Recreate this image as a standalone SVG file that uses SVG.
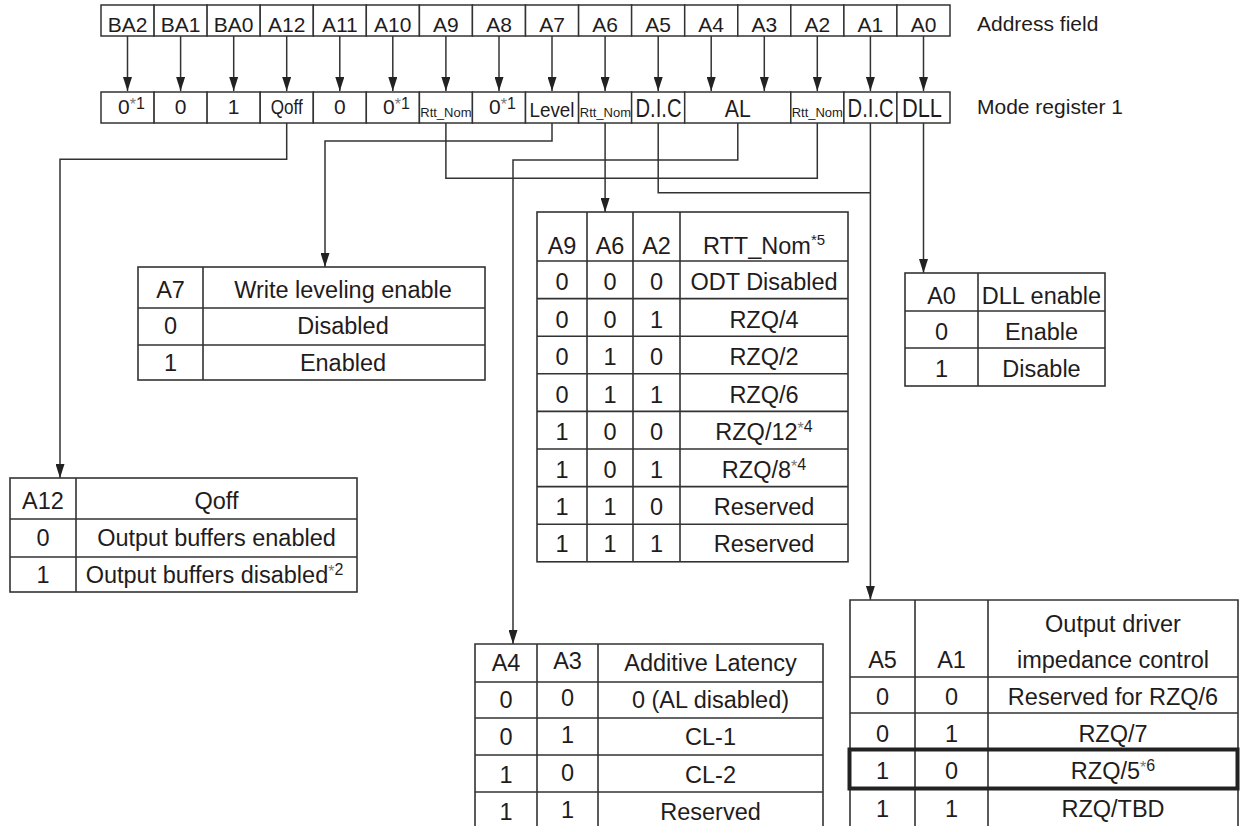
<svg xmlns="http://www.w3.org/2000/svg" width="1240" height="826" viewBox="0 0 1240 826">
<style>
text{font-family:"Liberation Sans",Arial,sans-serif;fill:#1f1c1d;text-anchor:middle}
.c{fill:#fff;stroke:#333;stroke-width:1.5}
.t{font-size:21px}
.r{font-size:21px}
.s{font-size:13px}
.b{font-size:25px}
.tb{font-size:23.5px}
.lbl{font-size:21px;text-anchor:start}
.tl{fill:none;stroke:#333;stroke-width:1.6}
.g{fill:#777}
.cn{fill:none;stroke:#333;stroke-width:1.5}
.ar{marker-end:url(#ah)}
</style>
<defs>
<marker id="ah" markerUnits="userSpaceOnUse" markerWidth="14" markerHeight="9" refX="14" refY="4.5" orient="auto">
<path d="M0,0 L14,4.5 L0,9 z" fill="#222"/>
</marker>
</defs>
<rect width="1240" height="826" fill="#fff"/>

<g id="address-field">
<g id="addr-BA2"><rect class="c" x="101" y="5" width="53.1" height="31"/><text class="t" x="127.5" y="31.5">BA2</text></g>
<g id="addr-BA1"><rect class="c" x="154.1" y="5" width="53.1" height="31"/><text class="t" x="180.6" y="31.5">BA1</text></g>
<g id="addr-BA0"><rect class="c" x="207.1" y="5" width="53.1" height="31"/><text class="t" x="233.7" y="31.5">BA0</text></g>
<g id="addr-A12"><rect class="c" x="260.2" y="5" width="53.1" height="31"/><text class="t" x="286.7" y="31.5">A12</text></g>
<g id="addr-A11"><rect class="c" x="313.3" y="5" width="53.1" height="31"/><text class="t" x="339.8" y="31.5">A11</text></g>
<g id="addr-A10"><rect class="c" x="366.3" y="5" width="53.1" height="31"/><text class="t" x="392.8" y="31.5">A10</text></g>
<g id="addr-A9"><rect class="c" x="419.4" y="5" width="53.1" height="31"/><text class="t" x="445.9" y="31.5">A9</text></g>
<g id="addr-A8"><rect class="c" x="472.4" y="5" width="53.1" height="31"/><text class="t" x="499" y="31.5">A8</text></g>
<g id="addr-A7"><rect class="c" x="525.5" y="5" width="53.1" height="31"/><text class="t" x="552" y="31.5">A7</text></g>
<g id="addr-A6"><rect class="c" x="578.6" y="5" width="53.1" height="31"/><text class="t" x="605.1" y="31.5">A6</text></g>
<g id="addr-A5"><rect class="c" x="631.6" y="5" width="53.1" height="31"/><text class="t" x="658.2" y="31.5">A5</text></g>
<g id="addr-A4"><rect class="c" x="684.7" y="5" width="53.1" height="31"/><text class="t" x="711.2" y="31.5">A4</text></g>
<g id="addr-A3"><rect class="c" x="737.8" y="5" width="53.1" height="31"/><text class="t" x="764.3" y="31.5">A3</text></g>
<g id="addr-A2"><rect class="c" x="790.8" y="5" width="53.1" height="31"/><text class="t" x="817.3" y="31.5">A2</text></g>
<g id="addr-A1"><rect class="c" x="843.9" y="5" width="53.1" height="31"/><text class="t" x="870.4" y="31.5">A1</text></g>
<g id="addr-A0"><rect class="c" x="896.9" y="5" width="53.1" height="31"/><text class="t" x="923.5" y="31.5">A0</text></g>
<text class="lbl" x="977" y="31">Address field</text>
</g>

<g id="mode-register-1">
<g id="mr-BA2"><rect class="c" x="101" y="92" width="53.1" height="31"/><text class="r" x="131.5" y="113.5">0<tspan class="g" font-size="16" dy="-4">*</tspan><tspan font-size="16" dy="-1">1</tspan></text></g>
<g id="mr-BA1"><rect class="c" x="154.1" y="92" width="53.1" height="31"/><text class="r" x="180.6" y="113.5">0</text></g>
<g id="mr-BA0"><rect class="c" x="207.1" y="92" width="53.1" height="31"/><text class="r" x="233.7" y="113.5">1</text></g>
<g id="mr-A12"><rect class="c" x="260.2" y="92" width="53.1" height="31"/><text class="r" x="286.7" y="114" textLength="32" lengthAdjust="spacingAndGlyphs">Qoff</text></g>
<g id="mr-A11"><rect class="c" x="313.3" y="92" width="53.1" height="31"/><text class="r" x="339.8" y="113.5">0</text></g>
<g id="mr-A10"><rect class="c" x="366.3" y="92" width="53.1" height="31"/><text class="r" x="396.5" y="113.5">0<tspan class="g" font-size="16" dy="-4">*</tspan><tspan font-size="16" dy="-1">1</tspan></text></g>
<g id="mr-A9"><rect class="c" x="419.4" y="92" width="53.1" height="31"/><text class="s" x="445.9" y="116.5">Rtt_Nom</text></g>
<g id="mr-A8"><rect class="c" x="472.4" y="92" width="53.1" height="31"/><text class="r" x="502.5" y="113.5">0<tspan class="g" font-size="16" dy="-4">*</tspan><tspan font-size="16" dy="-1">1</tspan></text></g>
<g id="mr-A7"><rect class="c" x="525.5" y="92" width="53.1" height="31"/><text class="r" x="552" y="116.5" textLength="45" lengthAdjust="spacingAndGlyphs">Level</text></g>
<g id="mr-A6"><rect class="c" x="578.6" y="92" width="53.1" height="31"/><text class="s" x="605.4" y="116.5">Rtt_Nom</text></g>
<g id="mr-A5"><rect class="c" x="631.6" y="92" width="53.1" height="31"/><text class="b" x="658.5" y="117" textLength="46" lengthAdjust="spacingAndGlyphs">D.I.C</text></g>
<g id="mr-A4A3"><rect class="c" x="684.7" y="92" width="106.1" height="31"/><text font-size="24" x="737.8" y="117" textLength="26" lengthAdjust="spacingAndGlyphs">AL</text></g>
<g id="mr-A2"><rect class="c" x="790.8" y="92" width="53.1" height="31"/><text class="s" x="817.3" y="116.5">Rtt_Nom</text></g>
<g id="mr-A1"><rect class="c" x="843.9" y="92" width="53.1" height="31"/><text class="b" x="870.6" y="117" textLength="46" lengthAdjust="spacingAndGlyphs">D.I.C</text></g>
<g id="mr-A0"><rect class="c" x="896.9" y="92" width="53.1" height="31"/><text class="b" x="922" y="117" textLength="40" lengthAdjust="spacingAndGlyphs">DLL</text></g>
<text class="lbl" x="977" y="113.5">Mode register 1</text>
</g>

<g id="connectors">
<path class="cn ar" d="M127.5,36V91"/>
<path class="cn ar" d="M180.6,36V91"/>
<path class="cn ar" d="M233.7,36V91"/>
<path class="cn ar" d="M286.7,36V91"/>
<path class="cn ar" d="M339.8,36V91"/>
<path class="cn ar" d="M392.8,36V91"/>
<path class="cn ar" d="M445.9,36V91"/>
<path class="cn ar" d="M499,36V91"/>
<path class="cn ar" d="M552,36V91"/>
<path class="cn ar" d="M605.1,36V91"/>
<path class="cn ar" d="M658.2,36V91"/>
<path class="cn ar" d="M711.2,36V91"/>
<path class="cn ar" d="M764.3,36V91"/>
<path class="cn ar" d="M817.3,36V91"/>
<path class="cn ar" d="M870.4,36V91"/>
<path class="cn ar" d="M923.5,36V91"/>
<path class="cn ar" d="M286.7,123V159.3H60V478"/>
<path class="cn ar" d="M552,123V141H325V267"/>
<path class="cn" d="M445.9,123V178.3H817.3V123"/>
<path class="cn ar" d="M605.1,123V212"/>
<path class="cn ar" d="M737.8,123V160H513V644"/>
<path class="cn" d="M658.2,123V192.7H870.4"/>
<path class="cn ar" d="M870.4,123V600"/>
<path class="cn ar" d="M923.5,123V273"/>
</g>

<g id="table-write-leveling">
<rect class="tl" x="138" y="267" width="347" height="113"/>
<path class="tl" d="M203,267V380M138,308H485M138,345H485"/>
<text class="tb" x="170.5" y="297.5">A7</text><text class="tb" x="343" y="297.5">Write leveling enable</text>
<text class="tb" x="170.5" y="334">0</text><text class="tb" x="343" y="334">Disabled</text>
<text class="tb" x="170.5" y="370.5">1</text><text class="tb" x="343" y="370.5">Enabled</text>
</g>

<g id="table-qoff">
<rect class="tl" x="10" y="478" width="347" height="114"/>
<path class="tl" d="M76,478V592M10,519H357M10,557H357"/>
<text class="tb" x="43" y="509">A12</text><text class="tb" x="216.5" y="509">Qoff</text>
<text class="tb" x="43" y="546">0</text><text class="tb" x="216.5" y="546">Output buffers enabled</text>
<text class="tb" x="43" y="583">1</text><text class="tb" x="214.5" y="583">Output buffers disabled<tspan class="g" font-size="16" dy="-6">*</tspan><tspan font-size="16" dy="-2">2</tspan></text>
</g>

<g id="table-rtt-nom">
<rect class="tl" x="537" y="212" width="311" height="349.8"/>
<path class="tl" d="M587,212V561.8M633,212V561.8M680,212V561.8M537,261H848M537,298.6H848M537,336.2H848M537,373.8H848M537,411.4H848M537,449H848M537,486.6H848M537,524.2H848"/>
<text class="tb" x="562" y="254">A9</text><text class="tb" x="610" y="254">A6</text><text class="tb" x="656.5" y="254">A2</text><text class="tb" x="764" y="254">RTT_Nom<tspan font-size="15" dy="-9">*5</tspan></text>
<text class="tb" x="562" y="290">0</text><text class="tb" x="610" y="290">0</text><text class="tb" x="656.5" y="290">0</text><text class="tb" x="764" y="290">ODT Disabled</text>
<text class="tb" x="562" y="327.5">0</text><text class="tb" x="610" y="327.5">0</text><text class="tb" x="656.5" y="327.5">1</text><text class="tb" x="764" y="327.5">RZQ/4</text>
<text class="tb" x="562" y="365">0</text><text class="tb" x="610" y="365">1</text><text class="tb" x="656.5" y="365">0</text><text class="tb" x="764" y="365">RZQ/2</text>
<text class="tb" x="562" y="402.5">0</text><text class="tb" x="610" y="402.5">1</text><text class="tb" x="656.5" y="402.5">1</text><text class="tb" x="764" y="402.5">RZQ/6</text>
<text class="tb" x="562" y="440">1</text><text class="tb" x="610" y="440">0</text><text class="tb" x="656.5" y="440">0</text><text class="tb" x="764" y="440">RZQ/12<tspan class="g" font-size="16" dy="-6">*</tspan><tspan font-size="16" dy="-2">4</tspan></text>
<text class="tb" x="562" y="477.5">1</text><text class="tb" x="610" y="477.5">0</text><text class="tb" x="656.5" y="477.5">1</text><text class="tb" x="764" y="477.5">RZQ/8<tspan class="g" font-size="16" dy="-6">*</tspan><tspan font-size="16" dy="-2">4</tspan></text>
<text class="tb" x="562" y="514.5">1</text><text class="tb" x="610" y="514.5">1</text><text class="tb" x="656.5" y="514.5">0</text><text class="tb" x="764" y="514.5">Reserved</text>
<text class="tb" x="562" y="552">1</text><text class="tb" x="610" y="552">1</text><text class="tb" x="656.5" y="552">1</text><text class="tb" x="764" y="552">Reserved</text>
</g>

<g id="table-dll">
<rect class="tl" x="905" y="273" width="200" height="113"/>
<path class="tl" d="M978,273V386M905,311H1105M905,348H1105"/>
<text class="tb" x="941.5" y="303.5">A0</text><text class="tb" x="1041.5" y="303.5">DLL enable</text>
<text class="tb" x="941.5" y="340">0</text><text class="tb" x="1041.5" y="340">Enable</text>
<text class="tb" x="941.5" y="377">1</text><text class="tb" x="1041.5" y="377">Disable</text>
</g>

<g id="table-additive-latency">
<path class="tl" d="M475,828V644H823V828M537,644V828M598,644V828M475,682H823M475,718H823M475,755H823M475,792H823"/>
<text class="tb" x="506" y="670.5">A4</text><text class="tb" x="567.5" y="668.5">A3</text><text class="tb" x="710.5" y="670.5">Additive Latency</text>
<text class="tb" x="506" y="708">0</text><text class="tb" x="567.5" y="706">0</text><text class="tb" x="710.5" y="708">0 (AL disabled)</text>
<text class="tb" x="506" y="745">0</text><text class="tb" x="567.5" y="743">1</text><text class="tb" x="710.5" y="745">CL-1</text>
<text class="tb" x="506" y="782.5">1</text><text class="tb" x="567.5" y="780.5">0</text><text class="tb" x="710.5" y="782.5">CL-2</text>
<text class="tb" x="506" y="820">1</text><text class="tb" x="567.5" y="818">1</text><text class="tb" x="710.5" y="820">Reserved</text>
</g>

<g id="table-driver-impedance">
<path class="tl" d="M850,828V600H1238V828M915,600V828M988,600V828M850,677H1238M850,713H1238M850,788H1238"/>
<rect x="849.5" y="749.5" width="388" height="39" fill="none" stroke="#222" stroke-width="4"/>
<text class="tb" x="1113" y="632">Output driver</text>
<text class="tb" x="882.5" y="668">A5</text><text class="tb" x="951.5" y="668">A1</text><text class="tb" x="1113" y="668">impedance control</text>
<text class="tb" x="882.5" y="705">0</text><text class="tb" x="951.5" y="705">0</text><text class="tb" x="1113" y="705">Reserved for RZQ/6</text>
<text class="tb" x="882.5" y="742">0</text><text class="tb" x="951.5" y="742">1</text><text class="tb" x="1113" y="742">RZQ/7</text>
<text class="tb" x="882.5" y="778.5">1</text><text class="tb" x="951.5" y="778.5">0</text><text class="tb" x="1113" y="778.5">RZQ/5<tspan class="g" font-size="16" dy="-6">*</tspan><tspan font-size="16" dy="-2">6</tspan></text>
<text class="tb" x="882.5" y="816.5">1</text><text class="tb" x="951.5" y="816.5">1</text><text class="tb" x="1113" y="816.5">RZQ/TBD</text>
</g>
</svg>
